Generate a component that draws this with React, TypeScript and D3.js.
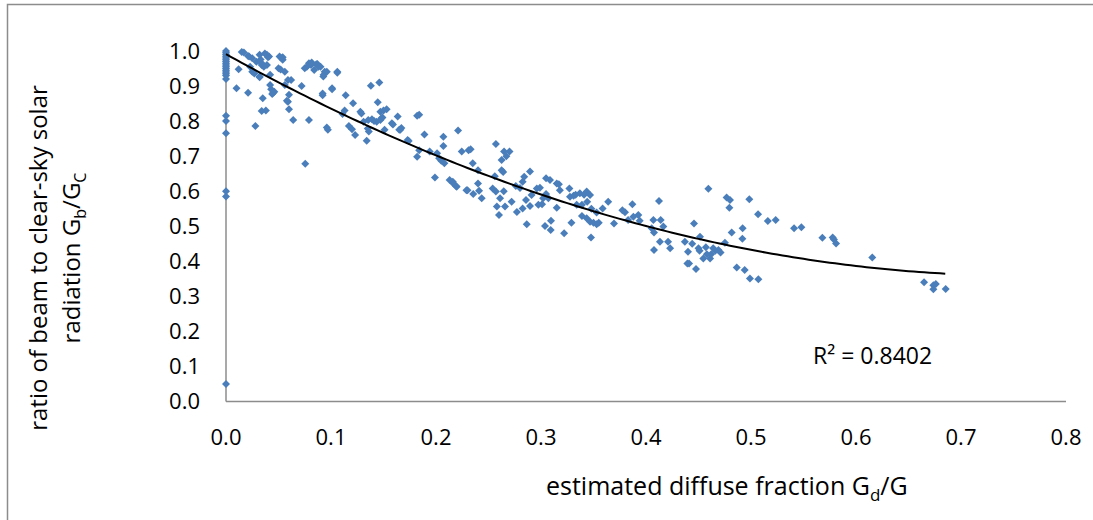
import React from 'react';
import * as d3 from 'd3';

// axis ticks
const xTicks = [0, 0.1, 0.2, 0.3, 0.4, 0.5, 0.6, 0.7, 0.8];
const yTicks = [0, 0.1, 0.2, 0.3, 0.4, 0.5, 0.6, 0.7, 0.8, 0.9, 1.0];

// points sitting on Gd/G = 0
const zeroDiffuseRatios = [
  1.0, 0.995, 0.99, 0.985, 0.98, 0.975, 0.97, 0.965, 0.96, 0.955, 0.95, 0.945,
  0.94, 0.935, 0.93, 0.92, 0.815, 0.8, 0.765, 0.6, 0.585, 0.05,
];

// [Gd/G, Gb/Gc]
const scatterPoints: [number, number][] = [
  [0.017, 0.996], [0.012, 0.948], [0.010, 0.894], [0.021, 0.881], [0.022, 0.984],
  [0.025, 0.979], [0.023, 0.955], [0.025, 0.941], [0.027, 0.936], [0.028, 0.786],
  [0.032, 0.989], [0.033, 0.976], [0.034, 0.965], [0.032, 0.925], [0.036, 0.955],
  [0.037, 0.993], [0.039, 0.989], [0.040, 0.982], [0.035, 0.865], [0.034, 0.829],
  [0.038, 0.830], [0.043, 0.891], [0.045, 0.881], [0.044, 0.877], [0.042, 0.932],
  [0.051, 0.984], [0.053, 0.979], [0.054, 0.975], [0.050, 0.951], [0.056, 0.941],
  [0.062, 0.917], [0.059, 0.855], [0.060, 0.834], [0.064, 0.803], [0.072, 0.900],
  [0.079, 0.803], [0.077, 0.955], [0.079, 0.965], [0.081, 0.960], [0.087, 0.963],
  [0.090, 0.955], [0.093, 0.932], [0.092, 0.879], [0.096, 0.941], [0.101, 0.894],
  [0.096, 0.782], [0.097, 0.775], [0.106, 0.941], [0.0755, 0.678], [0.075, 0.951],
  [0.029, 0.969], [0.034, 0.960], [0.039, 0.960], [0.041, 0.984], [0.032, 0.927],
  [0.042, 0.903], [0.046, 0.884], [0.054, 0.982], [0.052, 0.947], [0.059, 0.917],
  [0.056, 0.903], [0.058, 0.858], [0.060, 0.875], [0.015, 0.997], [0.021, 0.986],
  [0.0816, 0.967], [0.084, 0.946], [0.086, 0.962], [0.088, 0.955], [0.0927, 0.927],
  [0.094, 0.941], [0.092, 0.874], [0.101, 0.891], [0.106, 0.938],
  [0.114, 0.874], [0.121, 0.851], [0.138, 0.901], [0.146, 0.910], [0.113, 0.830],
  [0.111, 0.820], [0.117, 0.786], [0.120, 0.777], [0.123, 0.760], [0.129, 0.822],
  [0.131, 0.798], [0.1355, 0.803], [0.139, 0.805], [0.135, 0.779], [0.136, 0.770],
  [0.134, 0.744], [0.1445, 0.854], [0.147, 0.827], [0.150, 0.830], [0.153, 0.834],
  [0.147, 0.803], [0.149, 0.810], [0.151, 0.775], [0.158, 0.794], [0.159, 0.790],
  [0.1635, 0.813], [0.165, 0.775], [0.167, 0.780], [0.182, 0.815], [0.184, 0.818],
  [0.173, 0.746], [0.174, 0.743], [0.189, 0.762], [0.184, 0.717], [0.182, 0.698],
  [0.194, 0.713], [0.199, 0.639], [0.207, 0.755], [0.207, 0.729], [0.201, 0.708],
  [0.205, 0.687], [0.208, 0.680], [0.213, 0.632], [0.216, 0.627], [0.219, 0.615],
  [0.221, 0.773], [0.2245, 0.713], [0.229, 0.603], [0.231, 0.717], [0.203, 0.694],
  [0.141, 0.800], [0.1435, 0.798], [0.148, 0.808], [0.166, 0.775], [0.128, 0.827],
  [0.233, 0.720], [0.235, 0.680], [0.240, 0.660], [0.2165, 0.622], [0.2197, 0.613],
  [0.230, 0.603], [0.2355, 0.592], [0.240, 0.622], [0.241, 0.601], [0.2435, 0.580],
  [0.257, 0.735], [0.2625, 0.689], [0.2648, 0.713], [0.267, 0.700], [0.270, 0.713],
  [0.2625, 0.660], [0.264, 0.655], [0.256, 0.643], [0.254, 0.608], [0.257, 0.599],
  [0.261, 0.580], [0.2645, 0.600], [0.258, 0.556], [0.260, 0.532], [0.2657, 0.556],
  [0.272, 0.570], [0.277, 0.541], [0.276, 0.615], [0.280, 0.609], [0.2825, 0.627],
  [0.284, 0.641], [0.2825, 0.551], [0.2857, 0.575], [0.2895, 0.656], [0.291, 0.589],
  [0.2895, 0.558], [0.2864, 0.506], [0.296, 0.608], [0.299, 0.610], [0.2975, 0.561],
  [0.301, 0.563], [0.3048, 0.637], [0.3086, 0.632], [0.3048, 0.592], [0.302, 0.580],
  [0.307, 0.580], [0.3038, 0.501], [0.3095, 0.516], [0.3092, 0.489], [0.315, 0.622],
  [0.317, 0.620], [0.315, 0.553], [0.318, 0.603], [0.322, 0.480], [0.327, 0.608],
  [0.3276, 0.584], [0.329, 0.510], [0.331, 0.587], [0.333, 0.590], [0.334, 0.561],
  [0.337, 0.594], [0.339, 0.561], [0.341, 0.590], [0.3435, 0.599], [0.3467, 0.589],
  [0.339, 0.529], [0.3435, 0.523], [0.3467, 0.513], [0.350, 0.510], [0.353, 0.506],
  [0.3476, 0.468], [0.344, 0.570], [0.348, 0.550],
  [0.353, 0.539], [0.355, 0.510], [0.3587, 0.551], [0.364, 0.570], [0.3695, 0.508],
  [0.3775, 0.546], [0.380, 0.540], [0.383, 0.518], [0.387, 0.563], [0.388, 0.527],
  [0.3927, 0.532], [0.394, 0.516], [0.407, 0.518], [0.4054, 0.494], [0.4076, 0.482],
  [0.4124, 0.572], [0.414, 0.518], [0.4165, 0.499], [0.4133, 0.456], [0.4076, 0.432],
  [0.421, 0.456], [0.423, 0.437], [0.4394, 0.394], [0.441, 0.394], [0.4476, 0.378],
  [0.437, 0.456], [0.440, 0.427], [0.444, 0.450], [0.4457, 0.508], [0.450, 0.437],
  [0.4514, 0.470], [0.451, 0.430], [0.4546, 0.408], [0.458, 0.420], [0.4594, 0.607],
  [0.457, 0.440], [0.461, 0.408], [0.464, 0.437], [0.466, 0.430], [0.469, 0.432],
  [0.471, 0.425], [0.462, 0.420], [0.4752, 0.453], [0.4768, 0.582], [0.480, 0.575],
  [0.4794, 0.553], [0.4816, 0.482], [0.4864, 0.382], [0.492, 0.494], [0.4918, 0.464],
  [0.494, 0.375], [0.4984, 0.577], [0.499, 0.351], [0.507, 0.349], [0.5067, 0.534],
  [0.516, 0.515], [0.5235, 0.518], [0.541, 0.494], [0.548, 0.497], [0.568, 0.467],
  [0.5778, 0.468], [0.579, 0.462], [0.581, 0.451], [0.6155, 0.411], [0.6648, 0.340],
  [0.6737, 0.332], [0.676, 0.335], [0.6737, 0.320], [0.6854, 0.321],
];

// 2nd order polynomial trendline: a + b*x + c*x^2
const trendCoefficients = [0.991, -1.663, 1.093];
const trendExtent = [0, 0.685];
const rSquared = '0.8402';

const font = '"Open Sans", Lato, sans-serif';
const blue = '#4a7ebb';
const axisGray = '#8c8c8c';

export default function App() {
  const width = 1093;
  const height = 520;

  const x = d3.scaleLinear().domain([0, 0.8]).range([226, 1066]);
  const y = d3.scaleLinear().domain([0, 1]).range([401.5, 51]);

  const points: [number, number][] = [
    ...zeroDiffuseRatios.map((v) => [0, v] as [number, number]),
    ...scatterPoints,
  ];

  const diamond = d3.symbol(d3.symbolSquare, 32)() as string;

  const [a, b, c] = trendCoefficients;
  const trendData = d3
    .range(trendExtent[0], trendExtent[1], 0.005)
    .concat([trendExtent[1]])
    .map((v) => [v, a + b * v + c * v * v] as [number, number]);
  const trendPath = d3
    .line<[number, number]>()
    .x((d) => x(d[0]))
    .y((d) => y(d[1]))(trendData) as string;

  return (
    <svg
      width={width}
      height={height}
      style={{ position: 'absolute', left: 0, top: 0, background: '#fff' }}
      fontFamily={font}
    >
      {/* chart frame */}
      <rect x={7.5} y={4.5} width={width + 10} height={height + 10} fill="#fff" stroke={axisGray} strokeWidth={1.5} />

      {/* axes */}
      <line x1={x(0)} x2={x(0)} y1={y(0)} y2={y(1)} stroke={axisGray} strokeWidth={1.5} />
      <line x1={x(0)} x2={x(0.8)} y1={y(0)} y2={y(0)} stroke={axisGray} strokeWidth={1.5} />

      {yTicks.map((t) => (
        <text key={'y' + t} x={200} y={y(t)} dy="0.36em" textAnchor="end" fontSize={22} fill="#000">
          {t.toFixed(1)}
        </text>
      ))}
      {xTicks.map((t) => (
        <text key={'x' + t} x={x(t)} y={445} textAnchor="middle" fontSize={22} fill="#000">
          {t.toFixed(1)}
        </text>
      ))}

      {/* points */}
      {points.map((p, i) => (
        <path key={i} d={diamond} transform={`translate(${x(p[0])},${y(p[1])}) rotate(45)`} fill={blue} />
      ))}

      {/* trendline */}
      <path d={trendPath} fill="none" stroke="#000" strokeWidth={2} />
      <text x={813} y={364} fontSize={23} fill="#000">
        R² = {rSquared}
      </text>

      {/* axis titles */}
      <text transform="translate(47,258) rotate(-90)" textAnchor="middle" fontSize={24} fill="#000">
        ratio of beam to clear-sky solar
      </text>
      <text transform="translate(80,258) rotate(-90)" textAnchor="middle" fontSize={24} fill="#000">
        radiation G<tspan fontSize={16} dy={6}>b</tspan>
        <tspan dy={-6}>/G</tspan>
        <tspan fontSize={16} dy={6}>C</tspan>
      </text>
      <text x={546} y={495} fontSize={25} fill="#000">
        estimated diffuse fraction G<tspan fontSize={17} dy={6}>d</tspan>
        <tspan dy={-6}>/G</tspan>
      </text>
    </svg>
  );
}
